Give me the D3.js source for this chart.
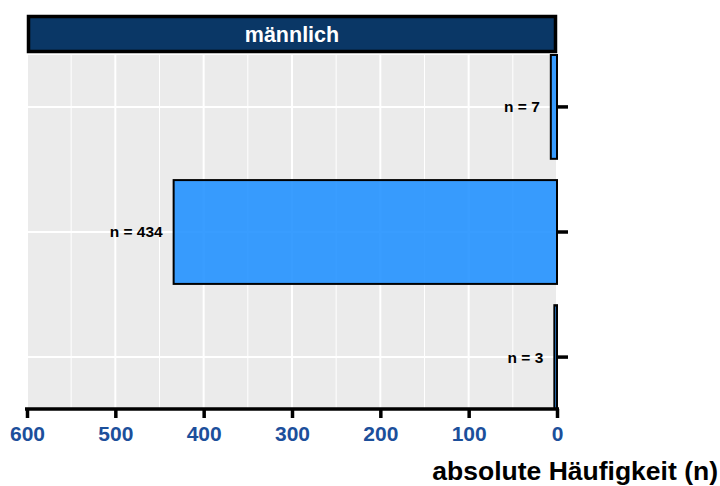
<!DOCTYPE html>
<html>
<head>
<meta charset="utf-8">
<script src="https://cdn.jsdelivr.net/npm/d3@7"></script>
<style>
  html, body { margin: 0; padding: 0; background: #ffffff; }
  svg { display: block; font-family: "Liberation Sans", Arial, Helvetica, sans-serif; }
</style>
</head>
<body>
<svg id="chart" width="720" height="486"></svg>
<script>
const categories = ["Gruppe 1", "Gruppe 2", "Gruppe 3"];
const values = [7, 434, 3];
const xTicks = [600, 500, 400, 300, 200, 100, 0];
const xMinorTicks = [550, 450, 350, 250, 150, 50];
const facetLabel = "männlich";
const xTitle = "absolute Häufigkeit (n)";

const W = 720, H = 486;
const panel = { left: 27, right: 557, top: 55, bottom: 409 };

const svg = d3.select("#chart");

const x = d3.scaleLinear().domain([600, 0]).range([panel.left, panel.right]);
const y = d3.scaleBand().domain(categories).range([panel.top, panel.bottom])
  .paddingInner(0.17).paddingOuter(0);
const yc = d => y(d) + y.bandwidth() / 2;

// panel background
svg.append("rect")
  .attr("x", panel.left).attr("y", panel.top)
  .attr("width", panel.right - panel.left).attr("height", panel.bottom - panel.top)
  .attr("fill", "#ebebeb");

// minor grid
svg.append("g").selectAll("line").data(xMinorTicks).join("line")
  .attr("x1", d => x(d)).attr("x2", d => x(d))
  .attr("y1", panel.top).attr("y2", panel.bottom)
  .attr("stroke", "#ffffff").attr("stroke-width", 1);
// major grid
svg.append("g").selectAll("line").data(xTicks).join("line")
  .attr("x1", d => x(d)).attr("x2", d => x(d))
  .attr("y1", panel.top).attr("y2", panel.bottom)
  .attr("stroke", "#ffffff").attr("stroke-width", 2);
svg.append("g").selectAll("line").data(categories).join("line")
  .attr("x1", panel.left).attr("x2", panel.right)
  .attr("y1", d => yc(d)).attr("y2", d => yc(d))
  .attr("stroke", "#ffffff").attr("stroke-width", 2);

// bars
svg.append("g").selectAll("rect").data(categories).join("rect")
  .attr("x", (d, i) => x(values[i]))
  .attr("y", d => y(d))
  .attr("width", (d, i) => x(0) - x(values[i]))
  .attr("height", y.bandwidth())
  .attr("fill", "#1e90ff").attr("fill-opacity", 0.88)
  .attr("stroke", "#000000").attr("stroke-width", 2);

// bar labels
svg.append("g").selectAll("text").data(categories).join("text")
  .attr("x", (d, i) => x(values[i]) - 11)
  .attr("y", d => yc(d))
  .attr("dy", "0.35em")
  .attr("text-anchor", "end")
  .attr("font-size", 15.5).attr("font-weight", "bold").attr("fill", "#000")
  .text((d, i) => "n = " + values[i]);

// right y-axis ticks
svg.append("g").selectAll("line").data(categories).join("line")
  .attr("x1", panel.right).attr("x2", panel.right + 11)
  .attr("y1", d => yc(d)).attr("y2", d => yc(d))
  .attr("stroke", "#000").attr("stroke-width", 3.5);

// bottom axis
const xAxis = d3.axisBottom(x).tickValues(xTicks).tickSize(9).tickPadding(8).tickSizeOuter(0);
const gx = svg.append("g").attr("transform", `translate(0,${panel.bottom})`).call(xAxis);
gx.select(".domain").attr("stroke", "#000").attr("stroke-width", 3.5)
  .attr("d", `M${panel.left - 2},0H${panel.right + 2}`);
gx.selectAll(".tick line").attr("stroke", "#000").attr("stroke-width", 3.5);
gx.selectAll(".tick text")
  .attr("fill", "#1c4f9b").attr("font-size", 21).attr("font-weight", "bold")
  .attr("font-family", "'Liberation Sans', Arial, sans-serif");

// strip
svg.append("rect")
  .attr("x", panel.left + 1.5).attr("y", 16.5)
  .attr("width", panel.right - panel.left - 3).attr("height", 35)
  .attr("fill", "#0a3766").attr("stroke", "#000").attr("stroke-width", 3.5);
svg.append("text")
  .attr("x", (panel.left + panel.right) / 2).attr("y", 34)
  .attr("dy", "0.35em").attr("text-anchor", "middle")
  .attr("fill", "#ffffff").attr("font-size", 21.5).attr("font-weight", "bold")
  .text(facetLabel);

// x title
svg.append("text")
  .attr("x", 718).attr("y", 480)
  .attr("text-anchor", "end")
  .attr("fill", "#000").attr("font-size", 26.5).attr("font-weight", "bold")
  .text(xTitle);
</script>
</body>
</html>
